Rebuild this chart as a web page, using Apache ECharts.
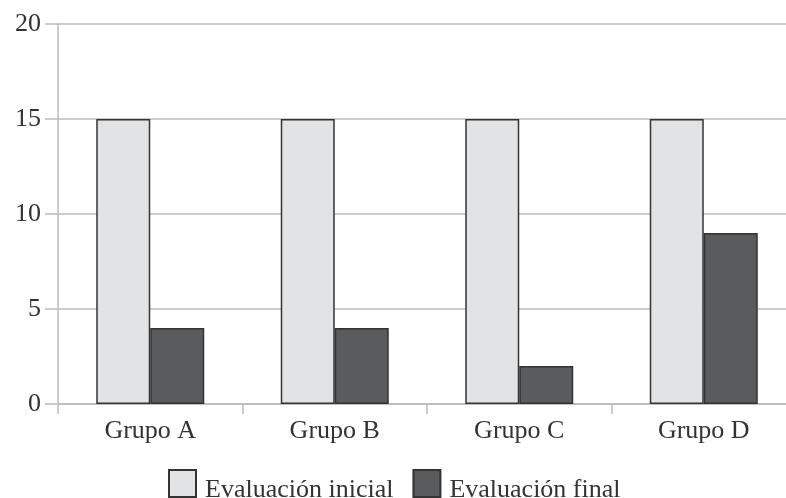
<!DOCTYPE html>
<html><head><meta charset="utf-8">
<script src="https://cdn.jsdelivr.net/npm/echarts@6/dist/echarts.min.js"></script>
<style>html,body{margin:0;padding:0;background:#fff;overflow:hidden;width:786px;height:498px}#c{width:806px;height:498px}</style>
</head><body><div id="c"></div>
<script>
const categories = ['Grupo A', 'Grupo B', 'Grupo C', 'Grupo D'];
const inicial = [15, 15, 15, 15];
const final = [4, 4, 2, 9];
const seriesNames = ['Evaluación inicial', 'Evaluación final'];
const yTicks = [0, 5, 10, 15, 20];

const font = '"Liberation Serif", "DejaVu Serif", serif';
const chart = echarts.init(document.getElementById('c'), null, {renderer: 'canvas'});
chart.setOption({
  animation: false,
  backgroundColor: '#fff',
  textStyle: {fontFamily: font},
  grid: {left: 58, right: 10, top: 24, bottom: 94, containLabel: false},
  legend: {
    data: seriesNames, top: 469, left: 168, itemWidth: 27, itemHeight: 27, itemGap: 19,
    padding: 0, icon: 'rect',
    formatter: '{t|{name}}',
    textStyle: {fontFamily: font, fontSize: 26, color: '#333',
      rich: {t: {fontFamily: font, fontSize: 26, color: '#333', padding: [14, 0, 0, 4]}}}
  },
  xAxis: {
    type: 'category', data: categories,
    axisLine: {lineStyle: {color: '#bbb', width: 1.5}},
    axisTick: {show: true, length: 10, lineStyle: {color: '#bbb', width: 1.5}},
    axisLabel: {fontFamily: font, fontSize: 26, color: '#333', margin: 14}
  },
  yAxis: {
    type: 'value', min: yTicks[0], max: yTicks[yTicks.length - 1], interval: 5,
    axisLine: {show: true, lineStyle: {color: '#bbb', width: 1.5}},
    axisTick: {show: true, length: 13, lineStyle: {color: '#bbb', width: 1.5}},
    splitLine: {lineStyle: {color: '#bbb', width: 1.5}},
    axisLabel: {fontFamily: font, fontSize: 26, color: '#333', margin: 17}
  },
  series: [
    {name: seriesNames[0], type: 'bar', data: inicial, barWidth: 54, barGap: '0%',
     itemStyle: {color: '#e2e3e5', borderColor: '#333', borderWidth: 1.5}},
    {name: seriesNames[1], type: 'bar', data: final, barWidth: 54, barGap: '0%',
     itemStyle: {color: '#5a5b5d', borderColor: '#333', borderWidth: 1.5}}
  ]
});
</script></body></html>
